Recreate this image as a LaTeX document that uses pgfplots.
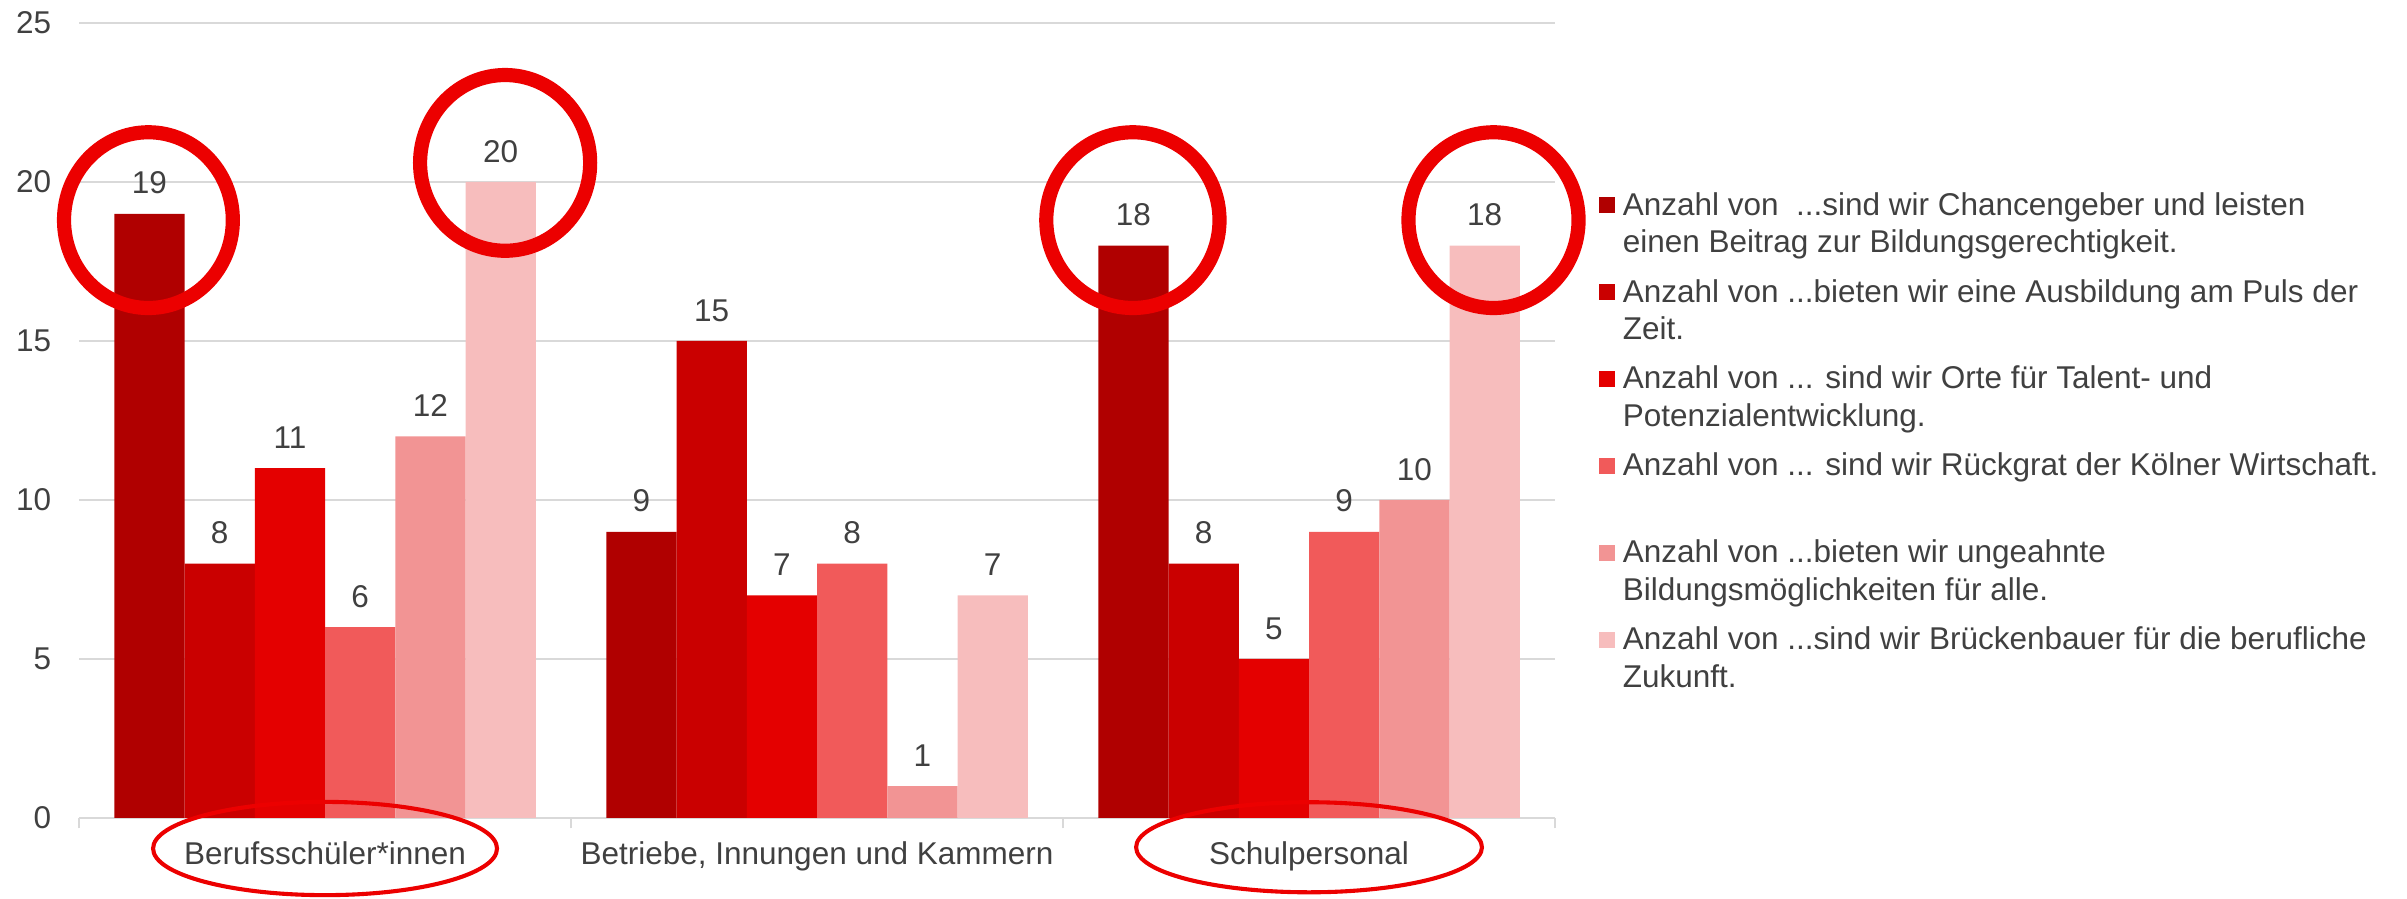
\documentclass[border=0pt]{standalone}
\usepackage{pgfplots}
\pgfplotsset{compat=1.18}
\usepackage{fontspec}
\setmainfont{Liberation Sans}
\definecolor{cA}{RGB}{176,0,0}
\definecolor{cB}{RGB}{202,0,0}
\definecolor{cC}{RGB}{228,0,0}
\definecolor{cD}{RGB}{241,90,90}
\definecolor{cE}{RGB}{242,148,148}
\definecolor{cF}{RGB}{247,189,189}
\definecolor{txt}{RGB}{64,64,64}
\definecolor{gridc}{RGB}{217,217,217}
\definecolor{ring}{RGB}{236,0,0}
\pgfplotsset{sqlegend/.style={/pgfplots/legend image code/.code={\fill[##1] (0pt,0.6pt) rectangle (5.1pt,5.7pt);}}}
\newcommand{\legtext}[1]{\parbox[t][27.6pt][t]{250pt}{\raggedright\rule{0pt}{8pt}#1}}
\begin{document}
\begin{tikzpicture}
\useasboundingbox (-25.1pt,-25.7pt) rectangle (739.1pt,259.7pt);
\begin{axis}[
  scale only axis, width=468.6pt, height=252.4pt,
  at={(0,0)}, anchor=south west,
  ybar=0pt, bar width=22.3pt,
  xmin=-0.5, xmax=2.5, ymin=0, ymax=25,
  ytick={0,5,10,15,20,25},
  xtick={0,1,2},
  xticklabels={Berufsschüler*innen,{Betriebe, Innungen und Kammern},Schulpersonal},
  axis line style={draw=none},
  ymajorgrids, grid style={draw=gridc, line width=0.6pt},
  major tick length=0pt,
  tick style={draw=gridc, line width=0.6pt},
  xtick pos=bottom, ytick pos=left,
  extra x ticks={-0.5,0.5,1.5,2.5},
  extra x tick labels={{},{},{},{}},
  extra x tick style={grid=none, tick align=outside, major tick length=3.3pt},
  /pgf/number format/assume math mode=true,
  tick label style={font=\fontsize{10}{12}\selectfont, text=txt},
  yticklabel style={xshift=-5.3pt},
  xticklabel style={anchor=base, yshift=-14.9pt},
  nodes near coords,
  every node near coord/.append style={font=\fontsize{10}{12}\selectfont, text=txt, inner ysep=0pt, yshift=6pt},
  clip=false,
  legend style={at={(axis description cs:1.0299,0.790)}, anchor=north west, draw=none, fill=none, inner sep=0pt, outer sep=0pt, row sep=0pt, column sep=2.4pt, font=\fontsize{10}{11.85}\selectfont, text=txt, cells={anchor=base west}, nodes={inner sep=0pt, text depth=}},
]
\addplot[fill=cA, draw=none, sqlegend] coordinates {(0,19) (1,9) (2,18)};
\addlegendentry{\legtext{Anzahl von\ \ ...sind wir Chancengeber und leisten\newline einen Beitrag zur Bildungsgerechtigkeit.}}
\addplot[fill=cB, draw=none, sqlegend] coordinates {(0,8) (1,15) (2,8)};
\addlegendentry{\legtext{Anzahl von ...bieten wir eine Ausbildung am Puls der\newline Zeit.}}
\addplot[fill=cC, draw=none, sqlegend] coordinates {(0,11) (1,7) (2,5)};
\addlegendentry{\legtext{Anzahl von ... sind wir Orte für Talent- und\newline Potenzialentwicklung.}}
\addplot[fill=cD, draw=none, sqlegend] coordinates {(0,6) (1,8) (2,9)};
\addlegendentry{\legtext{Anzahl von ... sind wir Rückgrat der Kölner Wirtschaft.}}
\addplot[fill=cE, draw=none, sqlegend] coordinates {(0,12) (1,1) (2,10)};
\addlegendentry{\legtext{Anzahl von ...bieten wir ungeahnte\newline Bildungsmöglichkeiten für alle.}}
\addplot[fill=cF, draw=none, sqlegend] coordinates {(0,20) (1,7) (2,18)};
\addlegendentry{\legtext{Anzahl von ...sind wir Brückenbauer für die berufliche\newline Zukunft.}}
\draw[ring, line width=4.5pt] (axis cs:-0.359,18.8) ellipse [x radius=26.8pt, y radius=27.9pt];
\draw[ring, line width=4.5pt] (axis cs:0.366,20.6) ellipse [x radius=27pt, y radius=27.9pt];
\draw[ring, line width=4.5pt] (axis cs:1.642,18.8) ellipse [x radius=27.5pt, y radius=27.9pt];
\draw[ring, line width=4.5pt] (axis cs:2.375,18.8) ellipse [x radius=27pt, y radius=27.9pt];
\draw[ring, line width=1.3pt] ([yshift=-9.7pt]axis cs:0,0) ellipse [x radius=54.6pt, y radius=14.8pt];
\draw[ring, line width=1.3pt] ([yshift=-9.3pt]axis cs:2,0) ellipse [x radius=54.9pt, y radius=14.3pt];
\end{axis}
\end{tikzpicture}
\end{document}
